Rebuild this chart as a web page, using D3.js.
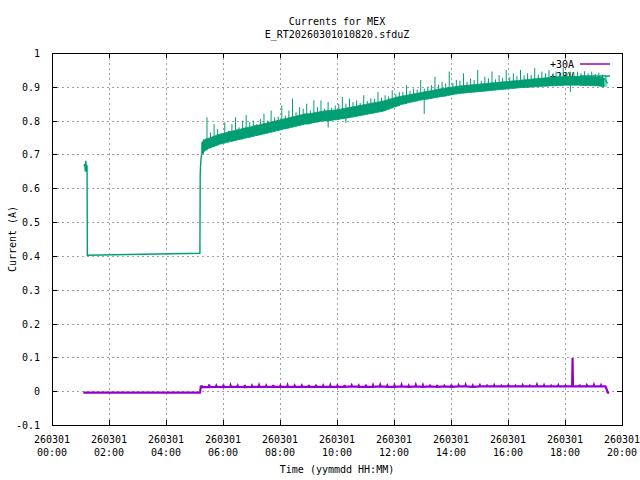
<!DOCTYPE html>
<html><head><meta charset="utf-8">
<script src="https://cdn.jsdelivr.net/npm/d3@7"></script>
<style>
body{margin:0;background:#fff}
svg{display:block}
text{font-family:"DejaVu Sans Mono","Liberation Mono",monospace;font-size:10px;fill:#000}
</style>
</head><body>
<svg id="c" width="640" height="480"></svg>
<script>
// ---- text ----
const titleLines = ["Currents for MEX", "E_RT20260301010820.sfduZ"];
const xLabel = "Time (yymmdd HH:MM)";
const yLabel = "Current (A)";
const seriesNames = ["+30A", "+28V"];

// ---- ticks ----
const xTickHours = [0, 2, 4, 6, 8, 10, 12, 14, 16, 18, 20];
const xTickDates = ["260301","260301","260301","260301","260301","260301","260301","260301","260301","260301","260301"];
const xTickTimes = ["00:00","02:00","04:00","06:00","08:00","10:00","12:00","14:00","16:00","18:00","20:00"];
const yTicks = [-0.1, 0, 0.1, 0.2, 0.3, 0.4, 0.5, 0.6, 0.7, 0.8, 0.9, 1];
const yTickLabels = ["-0.1","0","0.1","0.2","0.3","0.4","0.5","0.6","0.7","0.8","0.9","1"];

// ---- green series (hours, amps) ----
const greenEarlyT = [1.13, 1.15, 1.17, 1.19, 1.21, 1.23, 1.24, 5.19, 5.20, 5.21, 5.22, 5.235];
const greenEarlyV = [0.665, 0.672, 0.650, 0.681, 0.648, 0.668, 0.402, 0.408, 0.640, 0.662, 0.678, 0.692];
const greenBandStart = 5.25;   // hours
const greenBandStep = 0.125;   // hours
// lower edge of the dense band in each time bin
const greenLo = [
 0.700,0.712,0.718,0.722,0.726,0.730,0.733,0.735,
 0.738,0.740,0.743,0.745,0.748,0.750,0.752,0.755,
 0.757,0.760,0.762,0.765,0.767,0.770,0.772,0.775,
 0.777,0.780,0.782,0.785,0.787,0.790,0.790,0.793,
 0.795,0.797,0.800,0.799,0.800,0.802,0.803,0.805,
 0.806,0.808,0.810,0.812,0.814,0.816,0.818,0.820,
 0.822,0.824,0.826,0.828,0.832,0.836,0.840,0.843,
 0.848,0.850,0.853,0.855,0.857,0.860,0.862,0.863,
 0.865,0.867,0.869,0.871,0.872,0.874,0.876,0.878,
 0.880,0.881,0.882,0.883,0.884,0.885,0.886,0.887,
 0.888,0.889,0.890,0.891,0.892,0.893,0.894,0.895,
 0.896,0.897,0.898,0.898,0.899,0.900,0.900,0.901,
 0.902,0.902,0.903,0.903,0.904,0.904,0.905,0.905,
 0.905,0.905,0.905,0.904,0.904,0.904,0.903,0.903,
 0.902,0.900];
// upper edge of the dense band in each time bin
const greenMid = [
 0.735,0.745,0.748,0.752,0.756,0.760,0.762,0.765,
 0.768,0.770,0.773,0.775,0.778,0.780,0.782,0.785,
 0.787,0.790,0.792,0.795,0.797,0.800,0.802,0.805,
 0.807,0.810,0.812,0.815,0.817,0.820,0.820,0.822,
 0.824,0.826,0.828,0.829,0.830,0.831,0.832,0.834,
 0.836,0.838,0.840,0.842,0.844,0.846,0.848,0.850,
 0.852,0.854,0.856,0.858,0.861,0.864,0.867,0.870,
 0.872,0.874,0.876,0.878,0.880,0.882,0.884,0.886,
 0.888,0.890,0.892,0.894,0.895,0.897,0.899,0.900,
 0.902,0.903,0.904,0.905,0.906,0.907,0.908,0.909,
 0.910,0.911,0.912,0.913,0.914,0.915,0.916,0.917,
 0.918,0.919,0.920,0.921,0.922,0.923,0.924,0.925,
 0.926,0.927,0.928,0.929,0.930,0.930,0.931,0.931,
 0.931,0.931,0.931,0.930,0.930,0.930,0.929,0.929,
 0.928,0.926];
// highest spike in each time bin
const greenHi = [
 0.745,0.810,0.765,0.790,0.775,0.760,0.795,0.770,
 0.790,0.810,0.780,0.800,0.817,0.795,0.800,0.790,
 0.805,0.820,0.800,0.830,0.810,0.812,0.845,0.815,
 0.830,0.865,0.825,0.840,0.835,0.850,0.830,0.860,
 0.840,0.860,0.835,0.855,0.838,0.845,0.850,0.870,
 0.850,0.865,0.855,0.860,0.852,0.875,0.858,0.866,
 0.865,0.885,0.868,0.875,0.872,0.890,0.878,0.884,
 0.885,0.905,0.888,0.895,0.892,0.920,0.895,0.900,
 0.905,0.930,0.906,0.915,0.910,0.945,0.912,0.920,
 0.918,0.940,0.915,0.925,0.920,0.950,0.918,0.930,
 0.925,0.945,0.922,0.935,0.926,0.950,0.928,0.940,
 0.932,0.950,0.934,0.940,0.935,0.955,0.936,0.945,
 0.940,0.950,0.938,0.945,0.941,0.955,0.940,0.945,
 0.942,0.945,0.940,0.946,0.940,0.945,0.938,0.942,
 0.936,0.932];
// isolated downward glitches
const greenDipT = [9.69, 10.31, 13.06, 18.19];
const greenDipV = [0.780, 0.793, 0.820, 0.885];
const greenEndT = [19.5];
const greenEndV = [0.910];

// ---- purple series ----
const purpleEarlyT = [1.10, 5.19, 5.20, 5.22];
const purpleEarlyV = [-0.004, -0.004, 0.000, 0.013];
const purpleBandStart = 5.25;
const purpleBandStep = 0.25;
const purpleLo = [
 0.012,0.012,0.013,0.012,0.013,0.013,0.012,0.013,
 0.013,0.013,0.013,0.013,0.013,0.013,0.013,0.013,
 0.013,0.013,0.013,0.013,0.013,0.014,0.013,0.013,
 0.013,0.014,0.013,0.013,0.014,0.013,0.014,0.013,
 0.014,0.013,0.014,0.013,0.014,0.014,0.013,0.014,
 0.014,0.014,0.014,0.014,0.014,0.014,0.014,0.014,
 0.014,0.014,0.014,0.014,0.014,0.014,0.014,0.014,
 0.014];
const purpleHi = [
 0.017,0.020,0.016,0.019,0.017,0.016,0.018,0.016,
 0.017,0.016,0.018,0.016,0.017,0.016,0.016,0.018,
 0.019,0.016,0.017,0.016,0.018,0.017,0.016,0.019,
 0.017,0.018,0.016,0.017,0.018,0.016,0.018,0.017,
 0.019,0.018,0.016,0.019,0.017,0.018,0.016,0.017,
 0.016,0.017,0.016,0.017,0.016,0.017,0.016,0.018,
 0.017,0.016,0.017,0.016,0.098,0.019,0.017,0.018,
 0.017];
const purpleEndT = [19.42, 19.45, 19.50, 19.55];
const purpleEndV = [0.014, 0.008, -0.004, -0.004];

// ---- colours ----
const colors = ["#9400d3", "#009e73"];

// ---- layout ----
const W = 640, H = 480;
const m = {left: 52, right: 18, top: 53, bottom: 55};
const pw = W - m.left - m.right, ph = H - m.top - m.bottom;

const svg = d3.select("#c");
const x = d3.scaleLinear().domain([0, 20]).range([m.left, m.left + pw]);
const y = d3.scaleLinear().domain([-0.1, 1]).range([m.top + ph, m.top]);

// grid
const grid = svg.append("g").attr("stroke", "#a0a0a0").attr("stroke-width", 1)
  .attr("stroke-dasharray", "2,3").attr("shape-rendering", "crispEdges");
grid.selectAll("line.gx").data(xTickHours.slice(1, -1)).join("line")
  .attr("x1", d => Math.round(x(d)) + 0.5).attr("x2", d => Math.round(x(d)) + 0.5)
  .attr("y1", m.top).attr("y2", m.top + ph);
grid.selectAll("line.gy").data(yTicks.slice(1, -1)).join("line")
  .attr("y1", d => Math.round(y(d)) + 0.5).attr("y2", d => Math.round(y(d)) + 0.5)
  .attr("x1", m.left).attr("x2", m.left + pw);

// legend (drawn beneath data, like gnuplot's key order)
const keyTextX = 574, keyLineX1 = 580, keyLineX2 = 610;
seriesNames.forEach((name, i) => {
  const ky = 64 + i * 12;
  svg.append("text").attr("x", keyTextX).attr("y", ky + 3.5).attr("text-anchor", "end").text(name);
  svg.append("line").attr("x1", keyLineX1).attr("x2", keyLineX2)
    .attr("y1", ky).attr("y2", ky).attr("stroke", colors[i]).attr("stroke-width", 1.5);
});

const line = d3.line().x(d => x(d[0])).y(d => y(d[1]));

// ---- purple ----
const purplePts = purpleEarlyT.map((t, i) => [t, purpleEarlyV[i]]);
purpleLo.forEach((lo, i) => {
  const t = purpleBandStart + i * purpleBandStep;
  purplePts.push([t, lo], [t + 0.015, purpleHi[i]], [t + 0.03, lo]);
});
purpleEndT.forEach((t, i) => purplePts.push([t, purpleEndV[i]]));
svg.append("path").datum(purplePts).attr("d", line)
  .attr("fill", "none").attr("stroke", colors[0]).attr("stroke-width", 2.2);

// ---- green ----
const gc = colors[1];
const greenBins = greenLo.map((lo, i) => ({
  t: greenBandStart + i * greenBandStep, lo, mid: greenMid[i], hi: greenHi[i]
}));
// early part and connection into the band
const greenStartPts = greenEarlyT.map((t, i) => [t, greenEarlyV[i]]);
greenStartPts.push([greenBins[0].t, greenBins[0].lo]);
svg.append("path").datum(greenStartPts).attr("d", line)
  .attr("fill", "none").attr("stroke", gc).attr("stroke-width", 1.4);
// dense band
const area = d3.area().x(d => x(d.t)).y0(d => y(d.lo)).y1(d => y(d.mid));
svg.append("path").datum(greenBins).attr("d", area).attr("fill", gc)
  .attr("stroke", gc).attr("stroke-width", 0.8);
// spikes: each bin's range up to its maximum
svg.append("g").selectAll("line").data(greenBins).join("line")
  .attr("x1", d => x(d.t + greenBandStep / 2)).attr("x2", d => x(d.t + greenBandStep / 2))
  .attr("y1", d => y(d.lo)).attr("y2", d => y(d.hi))
  .attr("stroke", gc).attr("stroke-width", 1);
// downward glitches
const dipBase = t => {
  const i = Math.min(greenBins.length - 1, Math.max(0, Math.round((t - greenBandStart) / greenBandStep)));
  return greenBins[i].lo;
};
svg.append("g").selectAll("line").data(greenDipT).join("line")
  .attr("x1", d => x(d)).attr("x2", d => x(d))
  .attr("y1", (d, i) => y(greenDipV[i])).attr("y2", d => y(dipBase(d)))
  .attr("stroke", gc).attr("stroke-width", 1);
// end of the series
const greenTail = [[greenBins[greenBins.length - 1].t, greenBins[greenBins.length - 1].mid]];
greenEndT.forEach((t, i) => greenTail.push([t, greenEndV[i]]));
svg.append("path").datum(greenTail).attr("d", line)
  .attr("fill", "none").attr("stroke", gc).attr("stroke-width", 1.2);

// axes (inward ticks, mirrored)
const tk = 5;
const axL = d3.axisLeft(y).tickValues(yTicks).tickSize(-tk).tickPadding(tk + 7)
  .tickFormat((d, i) => yTickLabels[i]);
const axR = d3.axisRight(y).tickValues(yTicks).tickSize(-tk).tickFormat("");
const axB = d3.axisBottom(x).tickValues(xTickHours).tickSize(-tk).tickFormat("");
const axT = d3.axisTop(x).tickValues(xTickHours).tickSize(-tk).tickFormat("");

function styleAxis(g) {
  g.select(".domain").remove();
  g.selectAll(".tick line").attr("stroke", "#000").attr("shape-rendering", "crispEdges");
  g.selectAll("text").attr("font-family", null).attr("font-size", null);
}
svg.append("g").attr("transform", `translate(${m.left},0)`).call(axL).call(styleAxis)
  .selectAll(".tick text").attr("dy", "0.35em");
svg.append("g").attr("transform", `translate(${m.left + pw},0)`).call(axR).call(styleAxis);
svg.append("g").attr("transform", `translate(0,${m.top + ph})`).call(axB).call(styleAxis);
svg.append("g").attr("transform", `translate(0,${m.top})`).call(axT).call(styleAxis);

// x tick labels (two lines)
const xl = svg.append("g");
xTickHours.forEach((h, i) => {
  const t = xl.append("text").attr("text-anchor", "middle");
  t.append("tspan").attr("x", x(h)).attr("y", 443).text(xTickDates[i]);
  t.append("tspan").attr("x", x(h)).attr("y", 456).text(xTickTimes[i]);
});

// border
svg.append("rect").attr("x", m.left + 0.5).attr("y", m.top + 0.5).attr("width", pw).attr("height", ph)
  .attr("fill", "none").attr("stroke", "#000").attr("stroke-width", 1).attr("shape-rendering", "crispEdges");

// titles and labels
const cx = m.left + pw / 2;
svg.append("text").attr("x", cx).attr("y", 25).attr("text-anchor", "middle").text(titleLines[0]);
svg.append("text").attr("x", cx).attr("y", 38).attr("text-anchor", "middle").text(titleLines[1]);
svg.append("text").attr("x", cx).attr("y", 473).attr("text-anchor", "middle").text(xLabel);
svg.append("text").attr("transform", `translate(16,${m.top + ph / 2}) rotate(-90)`)
  .attr("text-anchor", "middle").text(yLabel);
</script>
</body></html>
